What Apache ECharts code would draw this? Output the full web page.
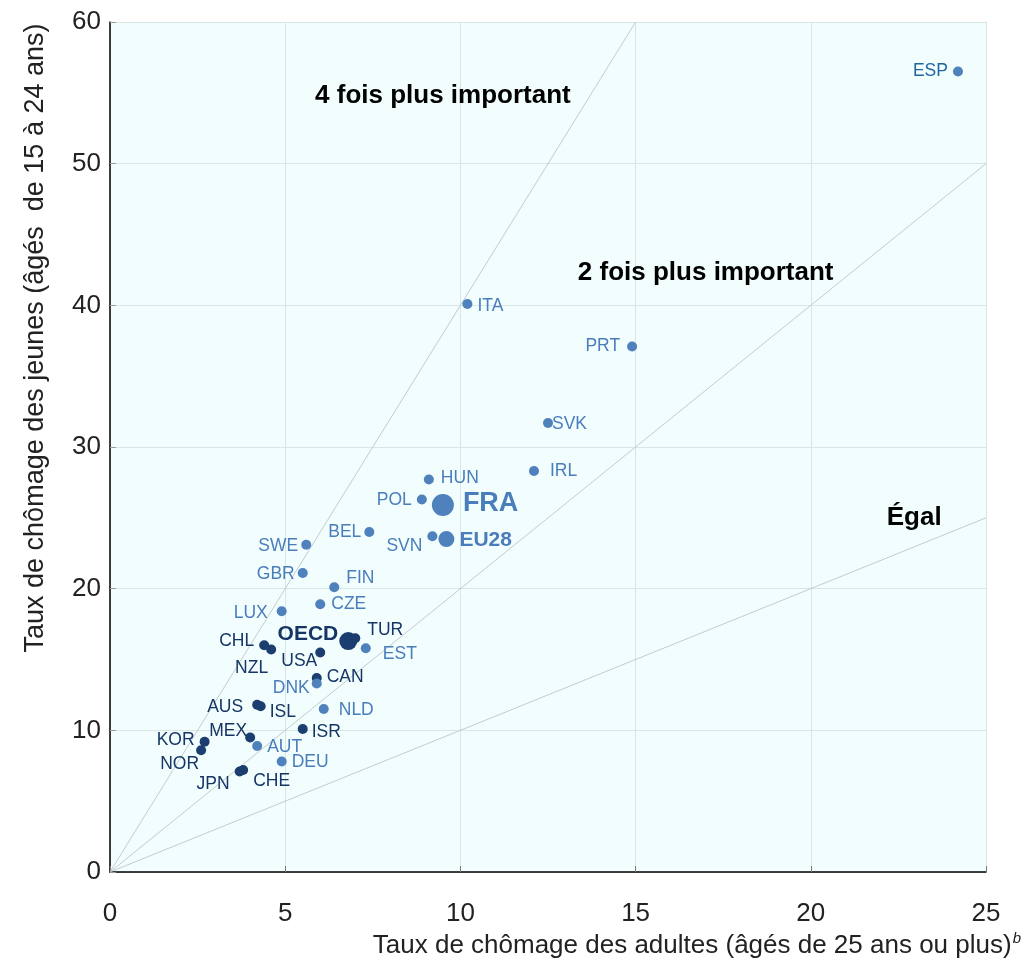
<!DOCTYPE html>
<html>
<head>
<meta charset="utf-8">
<script src="https://cdn.jsdelivr.net/npm/echarts@6/dist/echarts.min.js"></script>
<style>
  html, body { margin: 0; padding: 0; background: #fff; }
  #chart { width: 1026px; height: 963px; }
</style>
</head>
<body>
<div id="chart"></div>
<script>
// countries and rates (adults 25+, youth 15-24)
var countries = ["ESP", "ITA", "PRT", "SVK", "IRL", "HUN", "POL", "FRA", "SVN", "EU28",
  "BEL", "SWE", "GBR", "FIN", "CZE", "LUX", "OECD", "TUR", "EST", "CHL",
  "NZL", "USA", "CAN", "DNK", "NLD", "AUS", "ISL", "ISR", "MEX", "AUT",
  "KOR", "NOR", "DEU", "JPN", "CHE"];
var adultRate = [24.2, 10.2, 14.9, 12.5, 12.1, 9.1, 8.9, 9.5, 9.2, 9.6,
  7.4, 5.6, 5.5, 6.4, 6.0, 4.9, 6.8, 7.0, 7.3, 4.4,
  4.6, 6.0, 5.9, 5.9, 6.1, 4.2, 4.3, 5.5, 4.0, 4.2,
  2.7, 2.6, 4.9, 3.7, 3.8];
var youthRate = [56.5, 40.1, 37.1, 31.7, 28.3, 27.7, 26.3, 25.9, 23.7, 23.5,
  24.0, 23.1, 21.1, 20.1, 18.9, 18.4, 16.3, 16.5, 15.8, 16.0,
  15.7, 15.5, 13.7, 13.3, 11.5, 11.8, 11.7, 10.1, 9.5, 8.9,
  9.2, 8.6, 7.8, 7.1, 7.2];
// "eu" = EU member / aggregate, "oth" = other OECD
var groups = ["eu", "eu", "eu", "eu", "eu", "eu", "eu", "eu", "eu", "eu",
  "eu", "eu", "eu", "eu", "eu", "eu", "oth", "oth", "eu", "oth",
  "oth", "oth", "oth", "eu", "eu", "oth", "oth", "oth", "oth", "eu",
  "oth", "oth", "eu", "oth", "oth"];

// ratio lines youth = k * adult
var ratioNames = ["4 fois plus important", "2 fois plus important", "Égal"];
var ratioK = [4, 2, 1];
var ratioTextX = [9.5, 17.0, 22.95];
var ratioTextY = [54.8, 42.3, 25.0];

var xTicks = [0, 5, 10, 15, 20, 25];
var yTicks = [0, 10, 20, 30, 40, 50, 60];

var FONT = "Liberation Sans, Arial, sans-serif";
var LIGHT = "#4f81bd";
var DARK = "#1b3d70";

// label placement: [side, dx, dy]
var labelPlace = {
  ESP: ["left", 0, 0], ITA: ["right", 0, 2], PRT: ["left", -2, 0], SVK: ["right", -6, 1],
  IRL: ["right", 6, 0], HUN: ["right", 2, -1], POL: ["left", 0, 1], FRA: ["right", 4, -2],
  SVN: ["left", 0, 10], EU28: ["right", 0, 1], BEL: ["left", 2, 0], SWE: ["left", 2, 1],
  GBR: ["left", 2, 1], FIN: ["right", 2, -9], CZE: ["right", 1, 0], LUX: ["left", -4, 2],
  OECD: ["left", 4, -7], TUR: ["right", 2, -8], EST: ["right", 7, 6], CHL: ["left", 0, -4],
  NZL: ["left", 7, 19], USA: ["left", 7, 9], CAN: ["right", 0, -1], DNK: ["left", 3, 5],
  NLD: ["right", 5, 1], AUS: ["left", -4, 2], ISL: ["right", -1, 6], ISR: ["right", -1, 3],
  MEX: ["left", 7, -6], AUT: ["right", 0, 1], KOR: ["left", 0, -1], NOR: ["left", 8, 14],
  DEU: ["right", 0, 1], JPN: ["left", 0, 13], CHE: ["right", 0, 11]
};

var bigSize = { FRA: 22, EU28: 16, OECD: 18 };
var bigFont = { FRA: 27, EU28: 21, OECD: 21 };

var points = countries.map(function (c, i) {
  var col = groups[i] === "eu" ? LIGHT : DARK;
  var place = labelPlace[c];
  var lblCol = c === "ESP" ? "#1f66a3" : (groups[i] === "eu" ? "#4a7dbb" : "#163566");
  return {
    name: c,
    value: [adultRate[i], youthRate[i]],
    symbolSize: bigSize[c] || 10,
    itemStyle: { color: col, opacity: 1 },
    label: {
      show: true,
      formatter: c,
      position: place[0],
      distance: 5,
      color: lblCol,
      fontSize: bigFont[c] || 17.5,
      fontWeight: bigFont[c] ? "bold" : "normal",
      fontFamily: FONT
    }
  };
});

var lineSeries = ratioK.map(function (k) {
  var xEnd = Math.min(25, 60 / k);
  return {
    type: "line",
    data: [[0, 0], [xEnd, xEnd * k]],
    symbol: "none",
    silent: true,
    z: 1,
    lineStyle: { color: "#b8c0c0", width: 0.8 }
  };
});

var textSeries = {
  type: "scatter",
  silent: true,
  symbolSize: 1,
  itemStyle: { color: "transparent", opacity: 1 },
  data: ratioNames.map(function (t, i) {
    return {
      value: [ratioTextX[i], ratioTextY[i]],
      label: {
        show: true,
        position: "inside",
        formatter: t,
        color: "#000",
        textBorderWidth: 0,
        fontSize: 26,
        fontWeight: "bold",
        fontFamily: FONT
      }
    };
  })
};

var chart = echarts.init(document.getElementById("chart"));
chart.setOption({
  animation: false,
  textStyle: { fontFamily: FONT },
  grid: {
    left: 110, right: 40, top: 22, bottom: 91,
    show: true, backgroundColor: "#f2fdfd", borderWidth: 0
  },
  xAxis: {
    type: "value", min: 0, max: 25, interval: 5,
    axisLine: { show: true, lineStyle: { color: "#000", width: 1.5 } },
    axisTick: { show: true, inside: true, length: 6, lineStyle: { color: "#777" } },
    axisLabel: { color: "#222", fontSize: 26, margin: 29, fontFamily: FONT,
      formatter: function (v) { return xTicks.indexOf(v) >= 0 ? String(v) : ""; } },
    splitLine: { show: true, lineStyle: { color: "#d9e6e6", width: 1 } }
  },
  yAxis: {
    type: "value", min: 0, max: 60, interval: 10,
    axisLine: { show: true, lineStyle: { color: "#000", width: 1.5 } },
    axisTick: { show: true, inside: true, length: 6, lineStyle: { color: "#999" } },
    axisLabel: { color: "#222", fontSize: 26, margin: 9, fontFamily: FONT,
      formatter: function (v) { return yTicks.indexOf(v) >= 0 ? String(v) : ""; } },
    splitLine: { show: true, lineStyle: { color: "#d9e6e6", width: 1 } }
  },
  graphic: [
    {
      type: "text",
      x: 36, y: 338,
      rotation: Math.PI / 2,
      style: {
        text: "Taux de chômage des jeunes (âgés  de 15 à 24 ans)",
        fill: "#222", fontSize: 27, fontFamily: FONT,
        textAlign: "center", textVerticalAlign: "middle"
      }
    },
    {
      type: "text",
      x: 1021, y: 946,
      style: {
        text: "{n|Taux de chômage des adultes (âgés de 25 ans ou plus)}{s|b}",
        textAlign: "right", textVerticalAlign: "middle",
        rich: {
          n: { fill: "#222", fontSize: 26, fontFamily: FONT, lineHeight: 30 },
          s: { fill: "#222", fontSize: 15, fontStyle: "italic", fontFamily: FONT,
            verticalAlign: "top", lineHeight: 30, padding: [0, 0, 10, 1] }
        }
      }
    }
  ],
  series: lineSeries.concat([
    textSeries,
    {
      type: "scatter",
      z: 3,
      data: points,
      labelLayout: function (params) {
        var p = labelPlace[countries[params.dataIndex]];
        return { dx: p[1], dy: p[2], hideOverlap: false };
      }
    }
  ])
});
</script>
</body>
</html>
